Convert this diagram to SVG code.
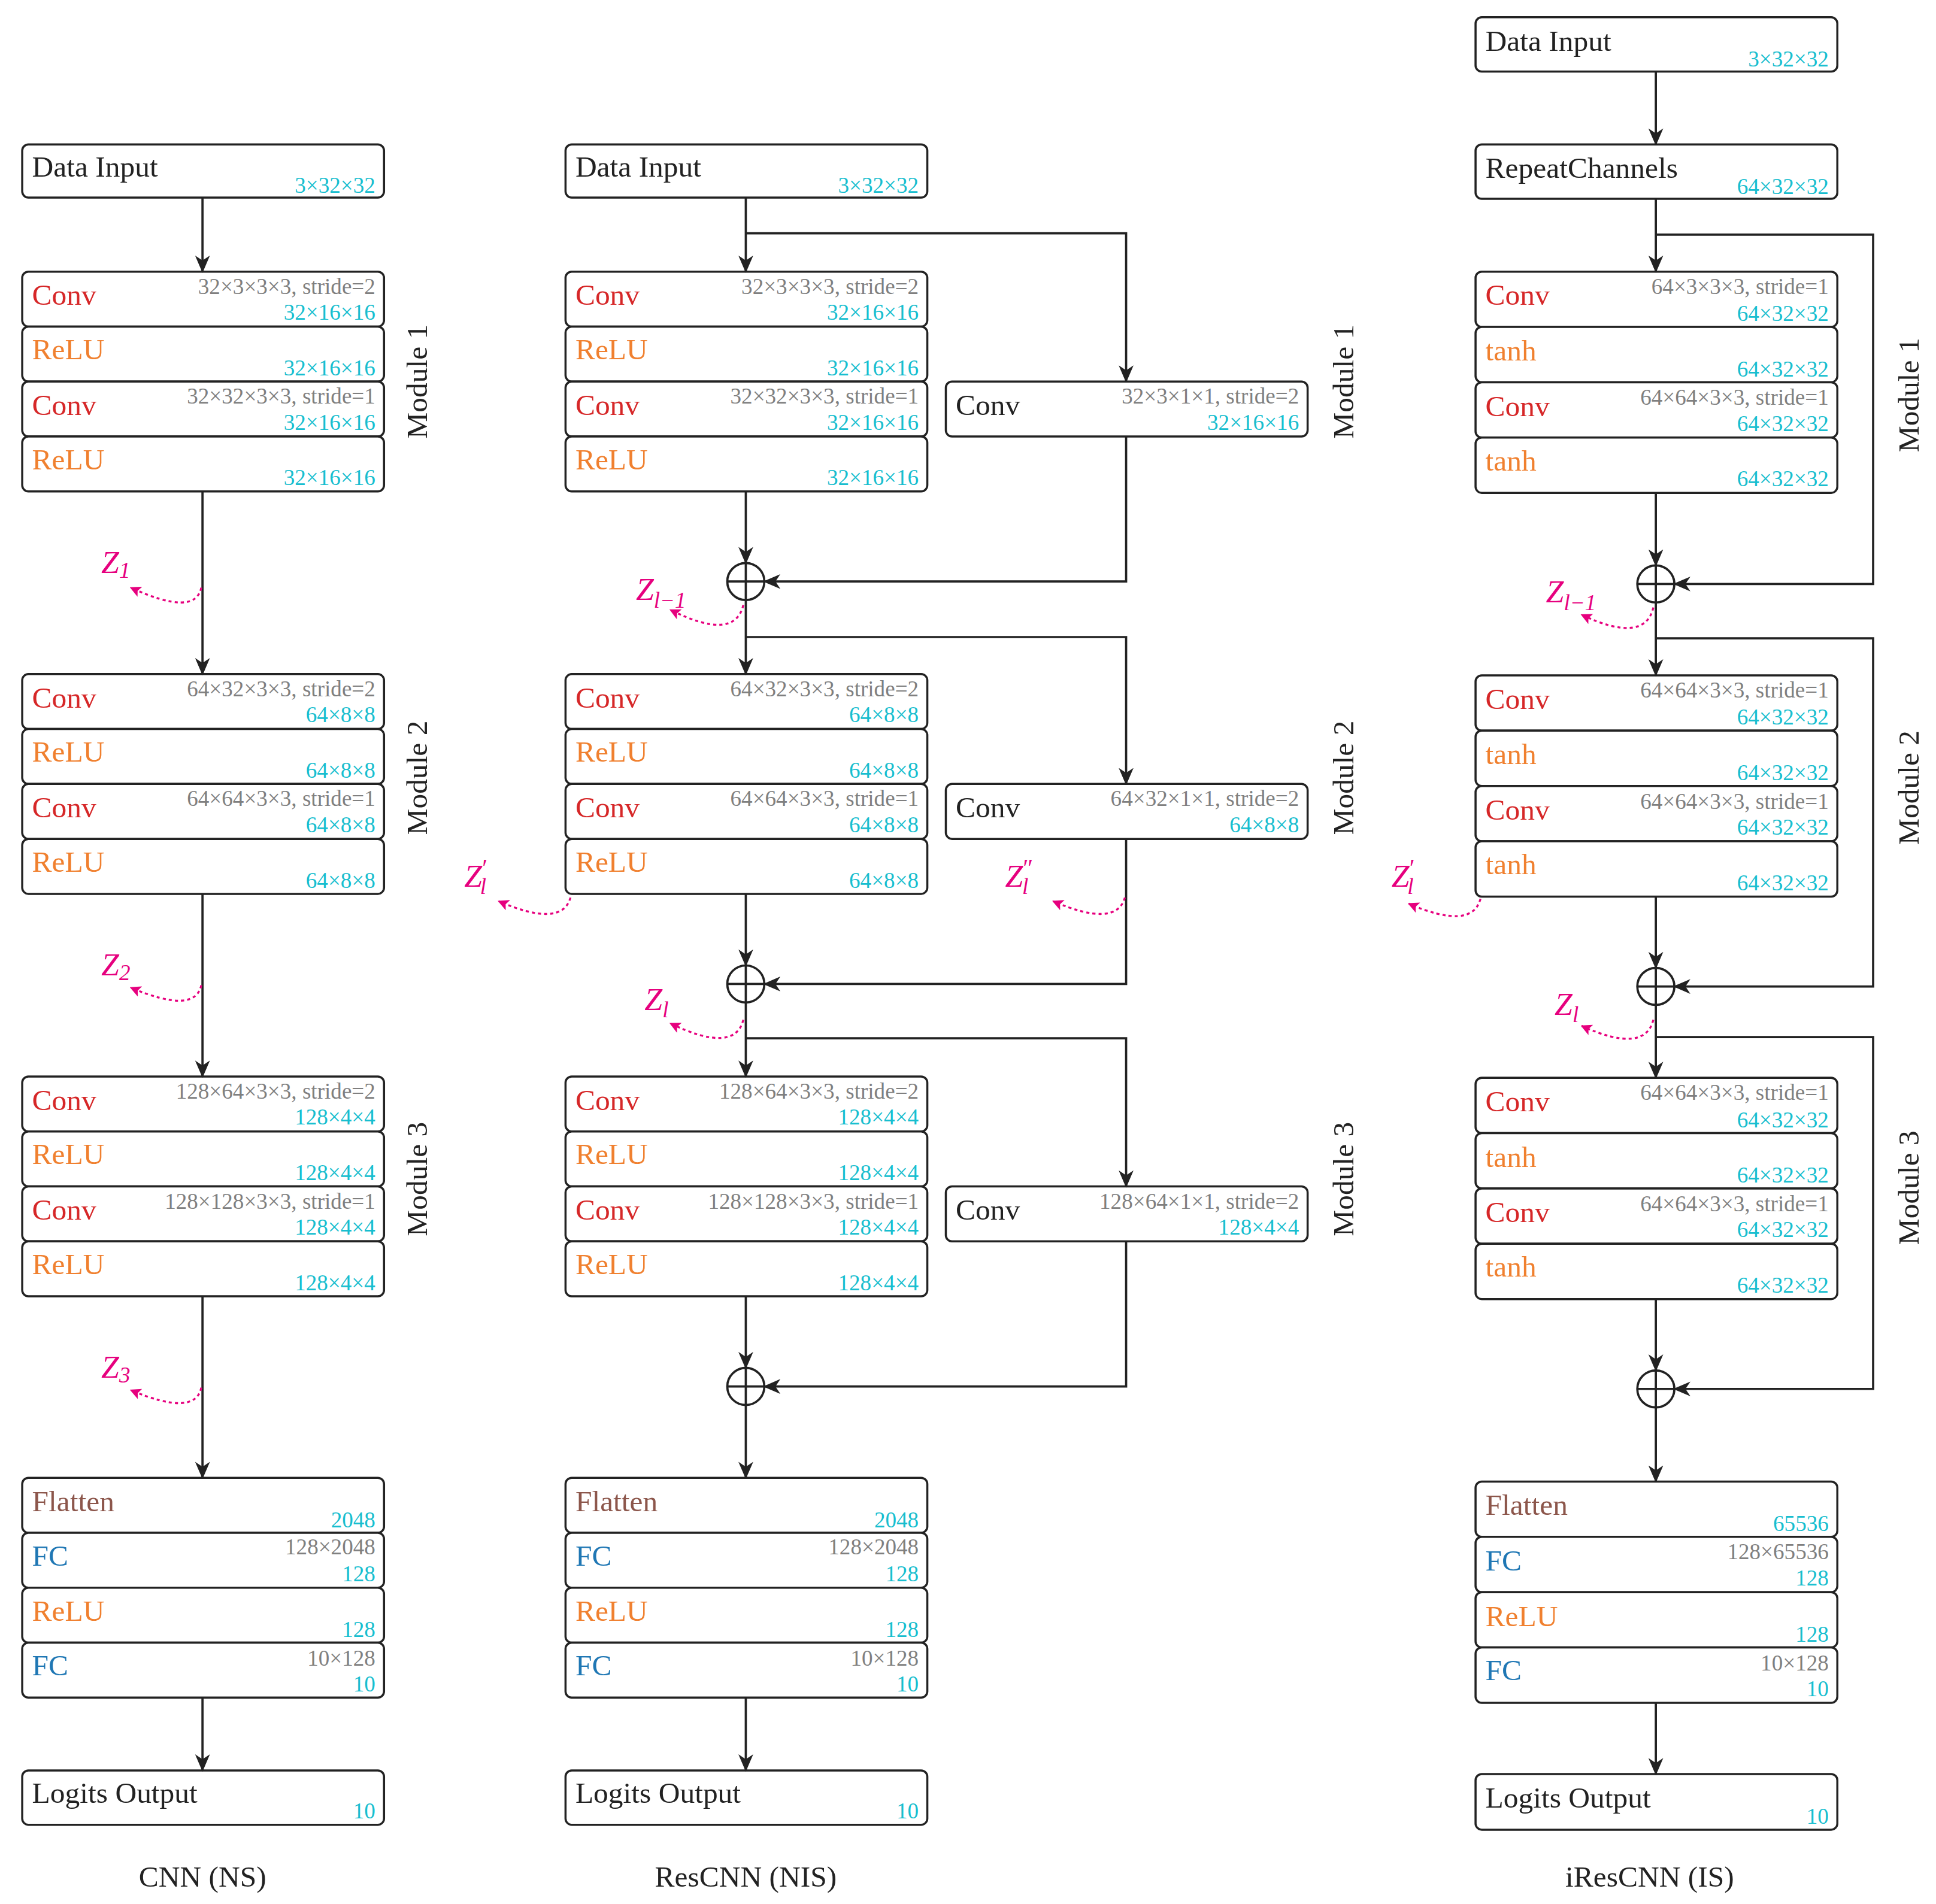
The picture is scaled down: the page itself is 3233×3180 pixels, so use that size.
<svg xmlns="http://www.w3.org/2000/svg" width="3233" height="3180" viewBox="0 0 3233 3180">
<defs>
<marker id="ah" markerWidth="14" markerHeight="14" refX="13" refY="7" orient="auto" markerUnits="userSpaceOnUse"><path d="M0,1 L14,7 L0,13 L4,7 Z" fill="#222"/></marker>
<marker id="mh" markerWidth="9" markerHeight="9" refX="8" refY="4.5" orient="auto" markerUnits="userSpaceOnUse"><path d="M0,0 L9,4.5 L0,9 L2,4.5 Z" fill="#e6007e"/></marker>
<style>
text{font-family:"Liberation Serif","Times New Roman",serif}
.b{fill:#fff;stroke:#222;stroke-width:1.7}
.l{font-size:24px;fill:#222}
.cv{font-size:24px;fill:#d62728}
.re{font-size:24px;fill:#f0802f}
.fl{font-size:24px;fill:#8c564b}
.fc{font-size:24px;fill:#1f77b4}
.p{font-size:18px;fill:#7f7f7f;text-anchor:end}
.d{font-size:18px;fill:#17becf;text-anchor:end}
.m{font-size:24px;fill:#222;text-anchor:middle}
.z{font-size:26px;fill:#e6007e;font-style:italic}
.c{fill:none;stroke:#222;stroke-width:1.8}
.dz{fill:none;stroke:#e6007e;stroke-width:1.6;stroke-dasharray:2.5,2.5}
</style>
</defs>
<g transform="scale(2.062)">
<!-- Column 1 -->
<g id="c1-input"><rect class="b" x="18" y="117" width="293" height="43" rx="5"/><text class="l" x="26" y="143">Data Input</text><text class="d" x="304" y="156">3×32×32</text></g>
<g id="c1-m1">
<rect class="b" x="18" y="220" width="293" height="44.5" rx="5"/><text class="cv" x="26" y="247">Conv</text><text class="p" x="304" y="238">32×3×3×3, stride=2</text><text class="d" x="304" y="259">32×16×16</text>
<rect class="b" x="18" y="264.5" width="293" height="44.5" rx="5"/><text class="re" x="26" y="291">ReLU</text><text class="d" x="304" y="304">32×16×16</text>
<rect class="b" x="18" y="309" width="293" height="44.5" rx="5"/><text class="cv" x="26" y="336">Conv</text><text class="p" x="304" y="327">32×32×3×3, stride=1</text><text class="d" x="304" y="348">32×16×16</text>
<rect class="b" x="18" y="353.5" width="293" height="44.5" rx="5"/><text class="re" x="26" y="380">ReLU</text><text class="d" x="304" y="393">32×16×16</text>
</g>
<g id="c1-m2">
<rect class="b" x="18" y="546" width="293" height="44.5" rx="5"/><text class="cv" x="26" y="573">Conv</text><text class="p" x="304" y="564">64×32×3×3, stride=2</text><text class="d" x="304" y="585">64×8×8</text>
<rect class="b" x="18" y="590.5" width="293" height="44.5" rx="5"/><text class="re" x="26" y="617">ReLU</text><text class="d" x="304" y="630">64×8×8</text>
<rect class="b" x="18" y="635" width="293" height="44.5" rx="5"/><text class="cv" x="26" y="662">Conv</text><text class="p" x="304" y="653">64×64×3×3, stride=1</text><text class="d" x="304" y="674">64×8×8</text>
<rect class="b" x="18" y="679.5" width="293" height="44.5" rx="5"/><text class="re" x="26" y="706">ReLU</text><text class="d" x="304" y="719">64×8×8</text>
</g>
<g id="c1-m3">
<rect class="b" x="18" y="872" width="293" height="44.5" rx="5"/><text class="cv" x="26" y="899">Conv</text><text class="p" x="304" y="890">128×64×3×3, stride=2</text><text class="d" x="304" y="911">128×4×4</text>
<rect class="b" x="18" y="916.5" width="293" height="44.5" rx="5"/><text class="re" x="26" y="943">ReLU</text><text class="d" x="304" y="956">128×4×4</text>
<rect class="b" x="18" y="961" width="293" height="44.5" rx="5"/><text class="cv" x="26" y="988">Conv</text><text class="p" x="304" y="979">128×128×3×3, stride=1</text><text class="d" x="304" y="1000">128×4×4</text>
<rect class="b" x="18" y="1005.5" width="293" height="44.5" rx="5"/><text class="re" x="26" y="1032">ReLU</text><text class="d" x="304" y="1045">128×4×4</text>
</g>
<g id="c1-head">
<rect class="b" x="18" y="1197" width="293" height="44.5" rx="5"/><text class="fl" x="26" y="1224">Flatten</text><text class="d" x="304" y="1237">2048</text>
<rect class="b" x="18" y="1241.5" width="293" height="44.5" rx="5"/><text class="fc" x="26" y="1268">FC</text><text class="p" x="304" y="1259">128×2048</text><text class="d" x="304" y="1281">128</text>
<rect class="b" x="18" y="1286" width="293" height="44.5" rx="5"/><text class="re" x="26" y="1313">ReLU</text><text class="d" x="304" y="1326">128</text>
<rect class="b" x="18" y="1330.5" width="293" height="44.5" rx="5"/><text class="fc" x="26" y="1357">FC</text><text class="p" x="304" y="1349">10×128</text><text class="d" x="304" y="1370">10</text>
</g>
<g id="c1-out"><rect class="b" x="18" y="1434" width="293" height="44" rx="5"/><text class="l" x="26" y="1460">Logits Output</text><text class="d" x="304" y="1473">10</text></g>
<text class="m" transform="translate(346,309) rotate(-90)">Module 1</text>
<text class="m" transform="translate(346,630) rotate(-90)">Module 2</text>
<text class="m" transform="translate(346,955) rotate(-90)">Module 3</text>
<text class="m" x="164" y="1528">CNN (NS)</text>

<!-- Column 2 -->
<g id="c2-input"><rect class="b" x="458" y="117" width="293" height="43" rx="5"/><text class="l" x="466" y="143">Data Input</text><text class="d" x="744" y="156">3×32×32</text></g>
<g id="c2-m1">
<rect class="b" x="458" y="220" width="293" height="44.5" rx="5"/><text class="cv" x="466" y="247">Conv</text><text class="p" x="744" y="238">32×3×3×3, stride=2</text><text class="d" x="744" y="259">32×16×16</text>
<rect class="b" x="458" y="264.5" width="293" height="44.5" rx="5"/><text class="re" x="466" y="291">ReLU</text><text class="d" x="744" y="304">32×16×16</text>
<rect class="b" x="458" y="309" width="293" height="44.5" rx="5"/><text class="cv" x="466" y="336">Conv</text><text class="p" x="744" y="327">32×32×3×3, stride=1</text><text class="d" x="744" y="348">32×16×16</text>
<rect class="b" x="458" y="353.5" width="293" height="44.5" rx="5"/><text class="re" x="466" y="380">ReLU</text><text class="d" x="744" y="393">32×16×16</text>
</g>
<g id="c2-s1"><rect class="b" x="766" y="309" width="293" height="44.5" rx="5"/><text class="l" x="774" y="336">Conv</text><text class="p" x="1052" y="327">32×3×1×1, stride=2</text><text class="d" x="1052" y="348">32×16×16</text></g>
<g id="c2-m2">
<rect class="b" x="458" y="546" width="293" height="44.5" rx="5"/><text class="cv" x="466" y="573">Conv</text><text class="p" x="744" y="564">64×32×3×3, stride=2</text><text class="d" x="744" y="585">64×8×8</text>
<rect class="b" x="458" y="590.5" width="293" height="44.5" rx="5"/><text class="re" x="466" y="617">ReLU</text><text class="d" x="744" y="630">64×8×8</text>
<rect class="b" x="458" y="635" width="293" height="44.5" rx="5"/><text class="cv" x="466" y="662">Conv</text><text class="p" x="744" y="653">64×64×3×3, stride=1</text><text class="d" x="744" y="674">64×8×8</text>
<rect class="b" x="458" y="679.5" width="293" height="44.5" rx="5"/><text class="re" x="466" y="706">ReLU</text><text class="d" x="744" y="719">64×8×8</text>
</g>
<g id="c2-s2"><rect class="b" x="766" y="635" width="293" height="44.5" rx="5"/><text class="l" x="774" y="662">Conv</text><text class="p" x="1052" y="653">64×32×1×1, stride=2</text><text class="d" x="1052" y="674">64×8×8</text></g>
<g id="c2-m3">
<rect class="b" x="458" y="872" width="293" height="44.5" rx="5"/><text class="cv" x="466" y="899">Conv</text><text class="p" x="744" y="890">128×64×3×3, stride=2</text><text class="d" x="744" y="911">128×4×4</text>
<rect class="b" x="458" y="916.5" width="293" height="44.5" rx="5"/><text class="re" x="466" y="943">ReLU</text><text class="d" x="744" y="956">128×4×4</text>
<rect class="b" x="458" y="961" width="293" height="44.5" rx="5"/><text class="cv" x="466" y="988">Conv</text><text class="p" x="744" y="979">128×128×3×3, stride=1</text><text class="d" x="744" y="1000">128×4×4</text>
<rect class="b" x="458" y="1005.5" width="293" height="44.5" rx="5"/><text class="re" x="466" y="1032">ReLU</text><text class="d" x="744" y="1045">128×4×4</text>
</g>
<g id="c2-s3"><rect class="b" x="766" y="961" width="293" height="44.5" rx="5"/><text class="l" x="774" y="988">Conv</text><text class="p" x="1052" y="979">128×64×1×1, stride=2</text><text class="d" x="1052" y="1000">128×4×4</text></g>
<g id="c2-head">
<rect class="b" x="458" y="1197" width="293" height="44.5" rx="5"/><text class="fl" x="466" y="1224">Flatten</text><text class="d" x="744" y="1237">2048</text>
<rect class="b" x="458" y="1241.5" width="293" height="44.5" rx="5"/><text class="fc" x="466" y="1268">FC</text><text class="p" x="744" y="1259">128×2048</text><text class="d" x="744" y="1281">128</text>
<rect class="b" x="458" y="1286" width="293" height="44.5" rx="5"/><text class="re" x="466" y="1313">ReLU</text><text class="d" x="744" y="1326">128</text>
<rect class="b" x="458" y="1330.5" width="293" height="44.5" rx="5"/><text class="fc" x="466" y="1357">FC</text><text class="p" x="744" y="1349">10×128</text><text class="d" x="744" y="1370">10</text>
</g>
<g id="c2-out"><rect class="b" x="458" y="1434" width="293" height="44" rx="5"/><text class="l" x="466" y="1460">Logits Output</text><text class="d" x="744" y="1473">10</text></g>
<g id="c2-plus1" class="c"><circle cx="604" cy="471" r="15"/><path d="M589,471H619M604,456V486"/></g>
<g id="c2-plus2" class="c"><circle cx="604" cy="797" r="15"/><path d="M589,797H619M604,782V812"/></g>
<g id="c2-plus3" class="c"><circle cx="604" cy="1123" r="15"/><path d="M589,1123H619M604,1108V1138"/></g>
<text class="m" transform="translate(1096,309) rotate(-90)">Module 1</text>
<text class="m" transform="translate(1096,630) rotate(-90)">Module 2</text>
<text class="m" transform="translate(1096,955) rotate(-90)">Module 3</text>
<text class="m" x="604" y="1528">ResCNN (NIS)</text>

<!-- Column 3 -->
<g id="c3-input"><rect class="b" x="1195" y="14" width="293" height="44" rx="5"/><text class="l" x="1203" y="41">Data Input</text><text class="d" x="1481" y="54">3×32×32</text></g>
<g id="c3-repeat"><rect class="b" x="1195" y="117" width="293" height="44" rx="5"/><text class="l" x="1203" y="144">RepeatChannels</text><text class="d" x="1481" y="157">64×32×32</text></g>
<g id="c3-m1">
<rect class="b" x="1195" y="220" width="293" height="44.8" rx="5"/><text class="cv" x="1203" y="247">Conv</text><text class="p" x="1481" y="238">64×3×3×3, stride=1</text><text class="d" x="1481" y="260">64×32×32</text>
<rect class="b" x="1195" y="264.8" width="293" height="44.8" rx="5"/><text class="re" x="1203" y="292">tanh</text><text class="d" x="1481" y="305">64×32×32</text>
<rect class="b" x="1195" y="309.6" width="293" height="44.8" rx="5"/><text class="cv" x="1203" y="337">Conv</text><text class="p" x="1481" y="328">64×64×3×3, stride=1</text><text class="d" x="1481" y="349">64×32×32</text>
<rect class="b" x="1195" y="354.4" width="293" height="44.8" rx="5"/><text class="re" x="1203" y="381">tanh</text><text class="d" x="1481" y="394">64×32×32</text>
</g>
<g id="c3-m2">
<rect class="b" x="1195" y="547" width="293" height="44.8" rx="5"/><text class="cv" x="1203" y="574">Conv</text><text class="p" x="1481" y="565">64×64×3×3, stride=1</text><text class="d" x="1481" y="587">64×32×32</text>
<rect class="b" x="1195" y="591.8" width="293" height="44.8" rx="5"/><text class="re" x="1203" y="619">tanh</text><text class="d" x="1481" y="632">64×32×32</text>
<rect class="b" x="1195" y="636.6" width="293" height="44.8" rx="5"/><text class="cv" x="1203" y="664">Conv</text><text class="p" x="1481" y="655">64×64×3×3, stride=1</text><text class="d" x="1481" y="676">64×32×32</text>
<rect class="b" x="1195" y="681.4" width="293" height="44.8" rx="5"/><text class="re" x="1203" y="708">tanh</text><text class="d" x="1481" y="721">64×32×32</text>
</g>
<g id="c3-m3">
<rect class="b" x="1195" y="873" width="293" height="44.8" rx="5"/><text class="cv" x="1203" y="900">Conv</text><text class="p" x="1481" y="891">64×64×3×3, stride=1</text><text class="d" x="1481" y="913">64×32×32</text>
<rect class="b" x="1195" y="917.8" width="293" height="44.8" rx="5"/><text class="re" x="1203" y="945">tanh</text><text class="d" x="1481" y="958">64×32×32</text>
<rect class="b" x="1195" y="962.6" width="293" height="44.8" rx="5"/><text class="cv" x="1203" y="990">Conv</text><text class="p" x="1481" y="981">64×64×3×3, stride=1</text><text class="d" x="1481" y="1002">64×32×32</text>
<rect class="b" x="1195" y="1007.4" width="293" height="44.8" rx="5"/><text class="re" x="1203" y="1034">tanh</text><text class="d" x="1481" y="1047">64×32×32</text>
</g>
<g id="c3-head">
<rect class="b" x="1195" y="1200" width="293" height="44.8" rx="5"/><text class="fl" x="1203" y="1227">Flatten</text><text class="d" x="1481" y="1240">65536</text>
<rect class="b" x="1195" y="1244.8" width="293" height="44.8" rx="5"/><text class="fc" x="1203" y="1272">FC</text><text class="p" x="1481" y="1263">128×65536</text><text class="d" x="1481" y="1284">128</text>
<rect class="b" x="1195" y="1289.6" width="293" height="44.8" rx="5"/><text class="re" x="1203" y="1317">ReLU</text><text class="d" x="1481" y="1330">128</text>
<rect class="b" x="1195" y="1334.4" width="293" height="44.8" rx="5"/><text class="fc" x="1203" y="1361">FC</text><text class="p" x="1481" y="1353">10×128</text><text class="d" x="1481" y="1374">10</text>
</g>
<g id="c3-out"><rect class="b" x="1195" y="1437" width="293" height="45" rx="5"/><text class="l" x="1203" y="1464">Logits Output</text><text class="d" x="1481" y="1477">10</text></g>
<g id="c3-plus1" class="c"><circle cx="1341" cy="473" r="15"/><path d="M1326,473H1356M1341,458V488"/></g>
<g id="c3-plus2" class="c"><circle cx="1341" cy="799" r="15"/><path d="M1326,799H1356M1341,784V814"/></g>
<g id="c3-plus3" class="c"><circle cx="1341" cy="1125" r="15"/><path d="M1326,1125H1356M1341,1110V1140"/></g>
<text class="m" transform="translate(1554,320) rotate(-90)">Module 1</text>
<text class="m" transform="translate(1554,638) rotate(-90)">Module 2</text>
<text class="m" transform="translate(1554,962) rotate(-90)">Module 3</text>
<text class="m" x="1336" y="1528">iResCNN (IS)</text>

<g id="connectors" class="c" marker-end="url(#ah)">
<path d="M164,160V220"/><path d="M164,398V546"/><path d="M164,724V872"/><path d="M164,1050V1197"/><path d="M164,1375V1434"/>
<path d="M604,160V220"/><path d="M604,189H912V309"/><path d="M604,398V456"/><path d="M912,353.5V471H619"/><path d="M604,486V546"/><path d="M604,516H912V635"/>
<path d="M604,724V782"/><path d="M912,679.5V797H619"/><path d="M604,812V872"/><path d="M604,841H912V961"/>
<path d="M604,1050V1108"/><path d="M912,1005.5V1123H619"/><path d="M604,1138V1197"/><path d="M604,1375V1434"/>
<path d="M1341,58V117"/><path d="M1341,161V220"/><path d="M1341,190H1517V473H1356"/><path d="M1341,399V458"/><path d="M1341,488V547"/><path d="M1341,517H1517V799H1356"/>
<path d="M1341,726V784"/><path d="M1341,814V873"/><path d="M1341,840H1517V1125H1356"/><path d="M1341,1052V1110"/><path d="M1341,1140V1200"/><path d="M1341,1379V1437"/>
</g>
<g id="latents">
<path class="dz" marker-end="url(#mh)" d="M163,476 Q158,500 106,476"/>
<path class="dz" marker-end="url(#mh)" d="M163,798 Q158,822 106,800"/>
<path class="dz" marker-end="url(#mh)" d="M163,1124 Q158,1148 106,1126"/>
<path class="dz" marker-end="url(#mh)" d="M602,490 Q595,520 543,494"/>
<path class="dz" marker-end="url(#mh)" d="M462,727 Q455,752 404,730"/>
<path class="dz" marker-end="url(#mh)" d="M911,727 Q904,752 853,730"/>
<path class="dz" marker-end="url(#mh)" d="M602,826 Q595,854 543,829"/>
<path class="dz" marker-end="url(#mh)" d="M1339,492 Q1332,522 1281,498"/>
<path class="dz" marker-end="url(#mh)" d="M1199,728 Q1192,754 1141,732"/>
<path class="dz" marker-end="url(#mh)" d="M1339,826 Q1332,854 1281,831"/>
<text class="z" x="82" y="464">Z<tspan font-size="18" dy="4">1</tspan></text>
<text class="z" x="82" y="790">Z<tspan font-size="18" dy="4">2</tspan></text>
<text class="z" x="82" y="1116">Z<tspan font-size="18" dy="4">3</tspan></text>
<text class="z" x="515" y="486">Z<tspan font-size="18" dy="6">l−1</tspan></text>
<text class="z" x="376" y="718">Z<tspan font-size="20" dy="-8" font-style="normal">′</tspan><tspan font-size="18" dx="-6" dy="14">l</tspan></text>
<text class="z" x="814" y="718">Z<tspan font-size="20" dy="-8" font-style="normal">″</tspan><tspan font-size="18" dx="-9" dy="14">l</tspan></text>
<text class="z" x="522" y="818">Z<tspan font-size="18" dy="6">l</tspan></text>
<text class="z" x="1252" y="488">Z<tspan font-size="18" dy="6">l−1</tspan></text>
<text class="z" x="1127" y="718">Z<tspan font-size="20" dy="-8" font-style="normal">′</tspan><tspan font-size="18" dx="-6" dy="14">l</tspan></text>
<text class="z" x="1259" y="822">Z<tspan font-size="18" dy="6">l</tspan></text>
</g>
</g>
</svg>
